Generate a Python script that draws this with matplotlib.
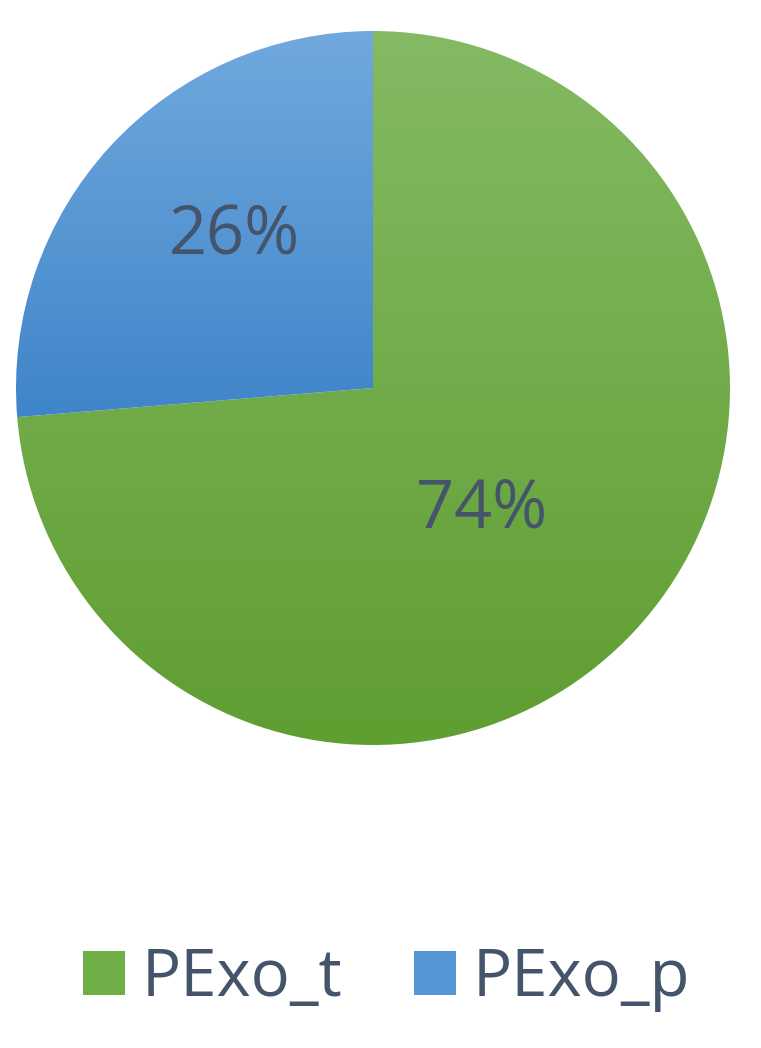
import numpy as np
import matplotlib
matplotlib.use('Agg')
import matplotlib.pyplot as plt
from matplotlib.colors import LinearSegmentedColormap
from matplotlib.patches import Patch

# Datos
categorias = ['PExo_t', 'PExo_p']
valores = [73.7, 26.3]

# Colores (degradado de arriba a abajo)
verde_claro, verde_oscuro = '#84ba63', '#5f9e31'
azul_claro, azul_oscuro = '#71a9de', '#3f85c9'
color_texto = '#44546a'

plt.rcParams['font.family'] = ['Open Sans', 'DejaVu Sans']

fig = plt.figure(figsize=(7.61, 10.48), dpi=100)
ax = fig.add_axes([16 / 761, 303 / 1048, 714 / 761, 714 / 1048])

wedges, _ = ax.pie(valores, startangle=90, counterclock=False, radius=1,
                   wedgeprops=dict(linewidth=0))
ax.set_xlim(-1, 1)
ax.set_ylim(-1, 1)
ax.set_aspect('equal')
ax.axis('off')

# Relleno en degradado vertical recortado a cada sector
for w, (c1, c2) in zip(wedges, [(verde_claro, verde_oscuro), (azul_claro, azul_oscuro)]):
    w.set_facecolor('none')
    bb = w.get_path().get_extents(w.get_patch_transform())
    cmap = LinearSegmentedColormap.from_list('g', [c2, c1])
    grad = np.linspace(0, 1, 256).reshape(-1, 1)
    im = ax.imshow(grad, cmap=cmap, origin='lower', aspect='auto',
                   extent=[bb.x0, bb.x1, bb.y0, bb.y1], zorder=1)
    im.set_clip_path(w)

# Etiquetas de porcentaje
distancias = [0.458, 0.575]
ajuste = [-5.6, -5.0]
ang = 90
for v, d, a in zip(valores, distancias, ajuste):
    medio = np.deg2rad(ang - v * 3.6 / 2 + a)
    ax.text(d * np.cos(medio), d * np.sin(medio), f'{v:.0f}%', ha='center', va='center',
            fontsize=48, color=color_texto, zorder=3)
    ang -= v * 3.6

handles = [Patch(facecolor='#6fad47', edgecolor='none'),
           Patch(facecolor='#5597d6', edgecolor='none')]
fig.legend(handles, categorias, loc='center', bbox_to_anchor=(0.5 + 6 / 761, 1 - 979 / 1048),
           ncol=2, frameon=False, fontsize=47, labelcolor=color_texto,
           handlelength=0.65, handleheight=0.65, handletextpad=0.25, columnspacing=1.1)

fig.savefig('out.png', dpi=100)
